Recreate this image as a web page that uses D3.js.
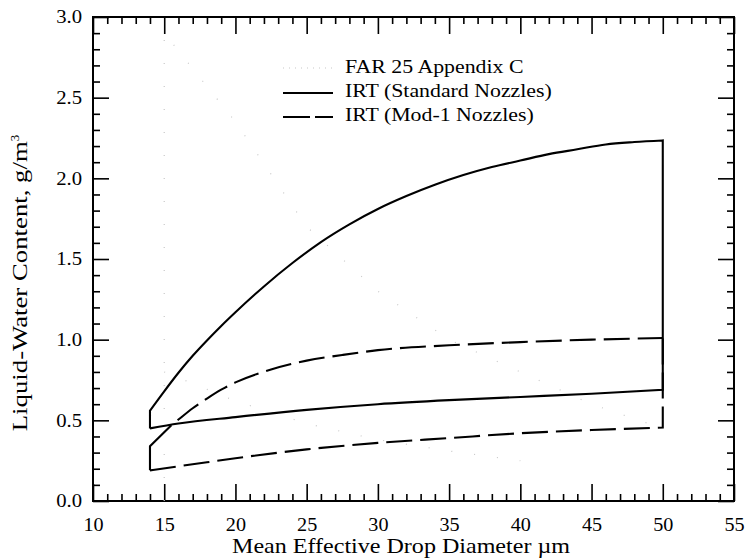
<!DOCTYPE html>
<html>
<head>
<meta charset="utf-8">
<script src="https://cdn.jsdelivr.net/npm/d3@7"></script>
<style>
  html, body { margin: 0; padding: 0; background: #fff; }
  svg { display: block; }
  text { font-family: "Liberation Serif", "Times New Roman", serif; fill: #000; }
</style>
</head>
<body>
<svg id="chart" width="746" height="560"></svg>
<script>
// ---------- data ----------
const stdUpperX = [14, 15, 16, 17, 18, 19, 20, 22, 24, 26, 28, 30, 32, 34, 36, 38, 40, 42, 44, 46, 48, 50];
const stdUpperY = [0.56, 0.68, 0.795, 0.90, 0.995, 1.085, 1.17, 1.33, 1.475, 1.605, 1.715, 1.81, 1.89, 1.96, 2.02, 2.07, 2.11, 2.15, 2.18, 2.21, 2.225, 2.235];
const stdLowerX = [14, 16, 20, 25, 30, 35, 40, 45, 50];
const stdLowerY = [0.45, 0.48, 0.52, 0.565, 0.60, 0.625, 0.645, 0.665, 0.69];

const modEdgeX = [14, 14, 15.5];
const modEdgeY = [0.19, 0.34, 0.47];
const modUpperX = [15.5, 16, 17, 18, 19, 20, 22.5, 25, 27.5, 30, 35, 40, 45, 50];
const modUpperY = [0.47, 0.505, 0.575, 0.635, 0.69, 0.735, 0.815, 0.87, 0.905, 0.935, 0.965, 0.985, 1.0, 1.01];
const modLowerX = [14, 16, 18, 20, 25, 30, 35, 40, 45, 50];
const modLowerY = [0.19, 0.215, 0.24, 0.265, 0.32, 0.36, 0.39, 0.42, 0.44, 0.455];

// FAR 25 Appendix C envelope (very faint in the original)
const farIntX = [15, 15, 20, 25, 30, 35, 40, 45, 50];
const farIntY = [0.0, 2.9, 2.35, 1.7, 1.3, 1.0, 0.8, 0.6, 0.45];
const farContX = [15, 20, 25, 30, 35, 40];
const farContY = [0.8, 0.62, 0.48, 0.38, 0.31, 0.25];

const xMajorTicks = [10, 15, 20, 25, 30, 35, 40, 45, 50, 55];
const yMajorTicks = [0.0, 0.5, 1.0, 1.5, 2.0, 2.5, 3.0];
const legendLabels = ["FAR 25 Appendix C", "IRT (Standard Nozzles)", "IRT (Mod-1 Nozzles)"];
const xTitle = "Mean Effective Drop Diameter \u00b5m";
const yTitle = "Liquid-Water Content, g/m";

// ---------- layout ----------
const svg = d3.select("#chart");
const L = 93, R = 734, T = 17, B = 501;
const x = d3.scaleLinear().domain([10, 55]).range([L, R]);
const y = d3.scaleLinear().domain([0, 3]).range([B, T]);
const xMinor = d3.range(10, 55.01, 1).filter(v => v % 5 !== 0);
const yMinor = d3.range(0, 30.01, 1).map(v => v / 10).filter(v => Math.round(v * 10) % 5 !== 0);

function stretch(sel, f) {
  sel.each(function () {
    const w = this.getComputedTextLength();
    d3.select(this).attr("textLength", w * f).attr("lengthAdjust", "spacingAndGlyphs");
  });
}

// ---------- axes ----------
function styleAxis(g) {
  g.select(".domain").remove();
  g.selectAll("line").attr("stroke", "#000").attr("stroke-width", 1.6);
}
const gxB = svg.append("g").attr("transform", `translate(0,${B})`)
  .call(d3.axisBottom(x).tickValues(xMajorTicks).tickSize(-17).tickPadding(17).tickFormat(d3.format("d")));
styleAxis(gxB);
gxB.selectAll("text").attr("font-size", 18).attr("font-family", "Liberation Serif");
svg.append("g").attr("transform", `translate(0,${B})`)
  .call(d3.axisBottom(x).tickValues(xMinor).tickSize(-7).tickFormat("")).call(styleAxis);
svg.append("g").attr("transform", `translate(0,${T})`)
  .call(d3.axisTop(x).tickValues(xMajorTicks).tickSize(-17).tickFormat("")).call(styleAxis);
svg.append("g").attr("transform", `translate(0,${T})`)
  .call(d3.axisTop(x).tickValues(xMinor).tickSize(-7).tickFormat("")).call(styleAxis);
const gyL = svg.append("g").attr("transform", `translate(${L},0)`)
  .call(d3.axisLeft(y).tickValues(yMajorTicks).tickSize(-16).tickPadding(11).tickFormat(d3.format(".1f")));
styleAxis(gyL);
gyL.selectAll("text").attr("font-size", 18).attr("font-family", "Liberation Serif");
svg.append("g").attr("transform", `translate(${L},0)`)
  .call(d3.axisLeft(y).tickValues(yMinor).tickSize(-7).tickFormat("")).call(styleAxis);
svg.append("g").attr("transform", `translate(${R},0)`)
  .call(d3.axisRight(y).tickValues(yMajorTicks).tickSize(-16).tickFormat("")).call(styleAxis);
svg.append("g").attr("transform", `translate(${R},0)`)
  .call(d3.axisRight(y).tickValues(yMinor).tickSize(-7).tickFormat("")).call(styleAxis);

svg.append("rect").attr("x", L).attr("y", T).attr("width", R - L).attr("height", B - T)
  .attr("fill", "none").attr("stroke", "#000").attr("stroke-width", 2);

// ---------- curves ----------
const zip = (xs, ys) => xs.map((v, i) => [v, ys[i]]);
const line = d3.line().x(d => x(d[0])).y(d => y(d[1])).curve(d3.curveMonotoneX);
const lineLin = d3.line().x(d => x(d[0])).y(d => y(d[1]));

const far = svg.append("g").attr("fill", "none").attr("stroke", "#c8c8c8").attr("stroke-width", 1.2)
  .attr("stroke-dasharray", "1,22");
far.append("path").attr("d", lineLin(zip(farIntX, farIntY)));
far.append("path").attr("d", lineLin(zip(farContX, farContY)));

const stdUpper = zip(stdUpperX, stdUpperY);
const stdLower = zip(stdLowerX, stdLowerY);
const stdPathD =
  lineLin([stdLower[0], stdUpper[0]]) +
  line(stdUpper).replace(/^M/, "L") +
  lineLin([stdUpper[stdUpper.length - 1], stdLower[stdLower.length - 1]]).replace(/^M/, "L") +
  line(stdLower.slice().reverse()).replace(/^M/, "L");
svg.append("path").attr("d", stdPathD).attr("fill", "none").attr("stroke", "#000")
  .attr("stroke-width", 2.1).attr("stroke-linejoin", "miter");

const modG = svg.append("g").attr("fill", "none").attr("stroke", "#000").attr("stroke-width", 2.1);
modG.append("path").attr("d", lineLin(zip(modEdgeX, modEdgeY)));
modG.append("path").attr("d", line(zip(modUpperX, modUpperY))).attr("stroke-dasharray", "26,8")
  .attr("stroke-dashoffset", 26);
const modLower = zip(modLowerX, modLowerY);
const modLowerD = line(modLower) +
  lineLin([modLower[modLower.length - 1], [50, modUpperY[modUpperY.length - 1]]]).replace(/^M/, "L");
modG.append("path").attr("d", modLowerD).attr("stroke-dasharray", "26,8");

// ---------- legend ----------
const lg = svg.append("g");
const rowsY = [73, 97, 121];
lg.append("line").attr("x1", 283).attr("x2", 333).attr("y1", rowsY[0] - 5).attr("y2", rowsY[0] - 5)
  .attr("stroke", "#c8c8c8").attr("stroke-width", 1.2).attr("stroke-dasharray", "1,5");
lg.append("line").attr("x1", 283).attr("x2", 333).attr("y1", rowsY[1] - 4).attr("y2", rowsY[1] - 4)
  .attr("stroke", "#000").attr("stroke-width", 2);
lg.append("line").attr("x1", 283).attr("x2", 333).attr("y1", rowsY[2] - 4).attr("y2", rowsY[2] - 4)
  .attr("stroke", "#000").attr("stroke-width", 2).attr("stroke-dasharray", "27,5");
const legTexts = lg.selectAll("text.leg").data(legendLabels).join("text").attr("class", "leg")
  .attr("x", 345).attr("y", (d, i) => rowsY[i]).attr("font-size", 18.5).text(d => d);

// ---------- titles ----------
const xt = svg.append("text").attr("x", 232).attr("y", 553).attr("font-size", 22).text(xTitle);
const yt = svg.append("text").attr("transform", "translate(27,283) rotate(-90)")
  .attr("text-anchor", "middle").attr("font-size", 21);
const ytMain = yt.append("tspan").text(yTitle);
yt.append("tspan").attr("dy", -8).attr("font-size", 13).text("3");

stretch(gxB.selectAll("text"), 1.12);
stretch(gyL.selectAll("text"), 1.15);
stretch(legTexts, 1.18);
xt.attr("textLength", 338).attr("lengthAdjust", "spacingAndGlyphs");
ytMain.attr("textLength", 290).attr("lengthAdjust", "spacingAndGlyphs");
</script>
</body>
</html>
